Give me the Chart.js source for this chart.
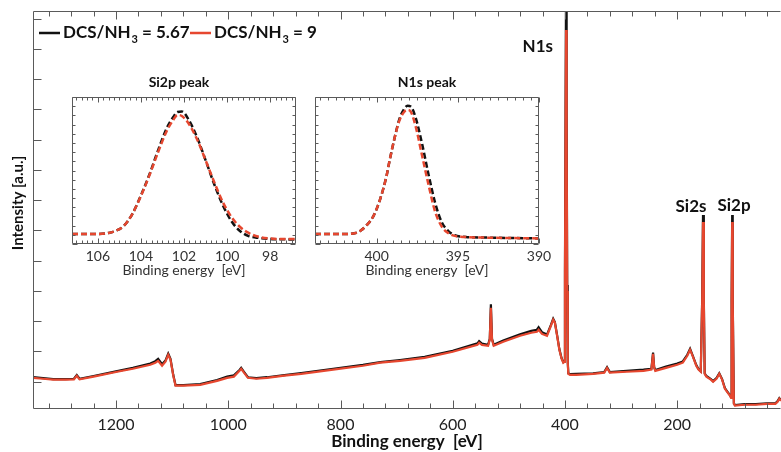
<!DOCTYPE html>
<html>
<head>
<meta charset="utf-8">
<script src="https://cdn.jsdelivr.net/npm/chart.js@4.4.1/dist/chart.umd.min.js"></script>
<style>
  body { margin: 0; background: #fff; }
  #wrap { position: relative; width: 781px; height: 452px; }
  canvas { position: absolute; }
</style>
</head>
<body>
<div id="wrap">
  <canvas id="survey" width="781" height="452" style="left:0;top:0"></canvas>
  <canvas id="si2p" width="270" height="215" style="left:40px;top:70px"></canvas>
  <canvas id="n1s" width="270" height="215" style="left:290px;top:70px"></canvas>
</div>
<script>
// survey spectrum, binding energy in eV, intensity in a.u.
const surveyEnergy = [1348, 1330, 1312, 1290, 1275, 1270, 1265, 1240, 1198, 1170, 1139, 1130, 1125, 1118, 1112, 1107, 1103, 1098, 1094, 1080,
  1050, 1020, 1002, 990, 980, 977, 972, 965, 950, 931, 900, 870, 813, 760, 729, 694, 650, 600, 556, 553,
  548, 537, 534, 532, 530, 527, 510, 480, 460, 450, 447, 441, 432, 425, 421, 418, 414, 410, 406, 403,
  401, 400, 399, 398, 397, 396, 395, 394, 391, 380, 350, 330, 325, 320, 290, 260, 246, 243, 241, 239,
  220, 200, 190, 182, 177, 172, 166, 162, 158, 155.5, 154, 152.5, 151, 148, 140, 136, 130, 125, 120, 115,
  110, 106, 104, 103, 102, 101, 99, 97, 80, 60, 40, 25, 21, 18, 15];
const surveyRatio9 = [0.13, 0.10, 0.07, 0.07, 0.08, 0.20, 0.08, 0.17, 0.33, 0.43, 0.56, 0.63, 0.69, 0.53, 0.66, 0.89, 0.73, 0.20, -0.13, -0.13,
  -0.10, 0.03, 0.13, 0.17, 0.36, 0.43, 0.30, 0.13, 0.10, 0.13, 0.20, 0.26, 0.40, 0.53, 0.63, 0.69, 0.79, 0.99, 1.22, 1.29,
  1.22, 1.19, 1.39, 2.44, 1.39, 1.19, 1.32, 1.52, 1.62, 1.65, 1.72, 1.58, 1.52, 1.85, 2.05, 1.95, 1.52, 1.06, 0.76, 0.63,
  0.66, 3.5, 8.0, 11.62, 8.0, 3.0, 0.6, 0.26, 0.23, 0.23, 0.26, 0.30, 0.46, 0.30, 0.33, 0.36, 0.40, 0.92, 0.46, 0.36,
  0.46, 0.56, 0.63, 0.86, 1.06, 0.83, 0.53, 0.40, 0.33, 2.6, 5.28, 2.6, 0.26, 0.17, 0.07, 0.0, 0.10, 0.26, 0.07, -0.23,
  -0.36, -0.46, -0.53, 2.6, 5.28, 2.6, -0.73, -0.79, -0.76, -0.76, -0.73, -0.73, -0.66, -0.56, -0.63];
const surveyRatio567 = [0.15, 0.12, 0.09, 0.09, 0.10, 0.22, 0.10, 0.19, 0.35, 0.46, 0.60, 0.68, 0.76, 0.58, 0.70, 0.93, 0.76, 0.22, -0.11, -0.11,
  -0.08, 0.06, 0.17, 0.21, 0.39, 0.46, 0.33, 0.15, 0.12, 0.15, 0.22, 0.29, 0.43, 0.56, 0.65, 0.72, 0.82, 1.02, 1.27, 1.34,
  1.26, 1.22, 1.42, 2.56, 1.42, 1.22, 1.36, 1.57, 1.68, 1.72, 1.80, 1.64, 1.56, 1.88, 2.08, 1.97, 1.54, 1.08, 0.78, 0.65,
  0.68, 3.7, 8.8, 13.5, 8.8, 3.2, 0.65, 0.28, 0.25, 0.26, 0.28, 0.32, 0.48, 0.32, 0.36, 0.40, 0.43, 0.96, 0.48, 0.39,
  0.50, 0.60, 0.67, 0.89, 1.09, 0.85, 0.55, 0.42, 0.35, 2.7, 5.51, 2.7, 0.28, 0.19, 0.09, 0.02, 0.12, 0.28, 0.09, -0.21,
  -0.34, -0.44, -0.51, 2.7, 5.51, 2.7, -0.71, -0.77, -0.74, -0.74, -0.71, -0.71, -0.64, -0.54, -0.61];
const surveyTicks = [200, 400, 600, 800, 1000, 1200];

// Si2p high resolution peak
const si2pEnergy = [107.2, 106.5, 106, 105.5, 105.2, 104.8, 104.4, 104, 103.6, 103.2, 102.8, 102.5, 102.3, 102.1, 101.8, 101.4, 101.0, 100.6, 100.2, 99.8, 99.4, 99, 98.5, 98, 97.5, 96.8];
const si2pRatio9 = [0.068, 0.068, 0.068, 0.075, 0.088, 0.122, 0.204, 0.327, 0.469, 0.626, 0.769, 0.844, 0.878, 0.871, 0.823, 0.714, 0.571, 0.422, 0.286, 0.184, 0.116, 0.075, 0.048, 0.037, 0.034, 0.034];
const si2pRatio567 = [0.068, 0.068, 0.068, 0.075, 0.088, 0.122, 0.204, 0.33, 0.475, 0.639, 0.789, 0.864, 0.898, 0.901, 0.85, 0.728, 0.571, 0.408, 0.265, 0.156, 0.088, 0.054, 0.041, 0.034, 0.032, 0.031];

// N1s high resolution peak
const n1sEnergy = [403.8, 402, 401.3, 401.0, 400.6, 400.2, 399.8, 399.4, 399.2, 398.9, 398.6, 398.3, 398.1, 397.9, 397.6, 397.2, 396.8, 396.4, 396.0, 395.6, 395.2, 394.5, 393, 390];
const n1sRatio9 = [0.068, 0.068, 0.075, 0.09, 0.13, 0.19, 0.30, 0.46, 0.57, 0.72, 0.84, 0.90, 0.912, 0.90, 0.80, 0.60, 0.40, 0.22, 0.12, 0.075, 0.055, 0.047, 0.043, 0.038];
const n1sRatio567 = [0.068, 0.068, 0.075, 0.09, 0.13, 0.19, 0.30, 0.46, 0.57, 0.72, 0.85, 0.92, 0.94, 0.935, 0.86, 0.68, 0.47, 0.28, 0.15, 0.09, 0.06, 0.048, 0.043, 0.038];

const RED = '#e6472f';
const BLACK = '#121212';
const AXIS = '#5a5a5a';
Chart.defaults.font.family = 'Lato';

function pts(xs, ys) {
  return xs.map((x, i) => ({x: x, y: ys[i]}));
}

// inward ticks + frame drawn on the chart area
const frameTicks = {
  id: 'frameTicks',
  afterDatasetsDraw(chart, args, o) {
    const {ctx, chartArea: a, scales: {x, y}} = chart;
    ctx.save();
    ctx.strokeStyle = AXIS;
    ctx.lineWidth = 1;
    ctx.beginPath();
    const L = Math.round(a.left) + 0.5, R = Math.round(a.right) - 0.5;
    const T = Math.round(a.top) + 0.5, B = Math.round(a.bottom) - 0.5;
    if (o.top) { ctx.moveTo(L, T); ctx.lineTo(R, T); }
    if (o.right) { ctx.moveTo(R, T); ctx.lineTo(R, B); }
    ctx.moveTo(L, T); ctx.lineTo(L, B); ctx.lineTo(R, B);
    const isMajor = (v, m) => Math.abs(v / m - Math.round(v / m)) < 1e-6;
    for (let i = Math.ceil(x.min / o.xStep - 1e-9); i * o.xStep <= x.max + 1e-9; i++) {
      const v = i * o.xStep;
      const px = Math.round(x.getPixelForValue(v)) + 0.5;
      const len = isMajor(v, o.xMajor) ? o.majorLen : o.minorLen;
      ctx.moveTo(px, B); ctx.lineTo(px, B - len);
      if (o.top) { ctx.moveTo(px, T); ctx.lineTo(px, T + len); }
    }
    for (let i = Math.ceil(y.min / o.yStep - 1e-9); i * o.yStep <= y.max + 1e-9; i++) {
      const v = i * o.yStep;
      const py = Math.round(y.getPixelForValue(v)) + 0.5;
      const len = isMajor(v, o.yMajor) ? o.majorLen : o.minorLen;
      ctx.moveTo(L, py); ctx.lineTo(L + len, py);
      if (o.right) { ctx.moveTo(R, py); ctx.lineTo(R - len, py); }
    }
    ctx.stroke();
    ctx.restore();
  }
};

// free text: titles, legend, peak names
function label(ctx, text, x, y, size, bold, align) {
  ctx.font = (bold ? 'bold ' : '') + size + 'px Lato';
  ctx.textAlign = align || 'center';
  ctx.textBaseline = 'middle';
  ctx.fillStyle = '#111';
  ctx.fillText(text, x, y);
}

function legendItem(ctx, x, y, color, value) {
  ctx.save();
  ctx.strokeStyle = color;
  ctx.lineWidth = 2.5;
  ctx.beginPath();
  ctx.moveTo(x, y); ctx.lineTo(x + 21, y);
  ctx.stroke();
  let cx = x + 24;
  label(ctx, 'DCS/NH', cx, y, 17, true, 'left');
  cx += ctx.measureText('DCS/NH').width + 1;
  label(ctx, '3', cx, y + 6, 11, true, 'left');
  cx += ctx.measureText('3').width + 4;
  label(ctx, '= ' + value, cx, y, 17, true, 'left');
  ctx.restore();
}

const surveyText = {
  id: 'surveyText',
  afterDraw(chart) {
    const ctx = chart.ctx;
    ctx.save();
    legendItem(ctx, 39, 33, BLACK, '5.67');
    legendItem(ctx, 190, 33, RED, '9');
    label(ctx, 'N1s', 553, 47, 17, true, 'right');
    label(ctx, 'Si2s', 691, 207, 17, true);
    label(ctx, 'Si2p', 734, 206, 17, true);
    ctx.translate(18, 203);
    ctx.rotate(-Math.PI / 2);
    label(ctx, 'Intensity [a.u.]', 0, 0, 15, true);
    ctx.restore();
  }
};

const insetTitle = {
  id: 'insetTitle',
  afterDraw(chart, args, o) {
    const a = chart.chartArea;
    label(chart.ctx, o.text, (a.left + a.right) / 2 + o.dx, 12, 14, true);
  }
};

new Chart('survey', {
  type: 'line',
  data: {
    datasets: [{
      data: pts(surveyEnergy, surveyRatio9),
      borderColor: RED,
      borderWidth: 2.2,
      pointRadius: 0,
      tension: 0,
      order: 0
    }, {
      data: pts(surveyEnergy, surveyRatio567),
      borderColor: BLACK,
      borderWidth: 2.2,
      pointRadius: 0,
      tension: 0,
      order: 1
    }]
  },
  options: {
    responsive: false,
    animation: false,
    layout: {padding: {top: 11, right: 0, left: 0, bottom: 0}},
    plugins: {
      legend: {display: false},
      tooltip: {enabled: false},
      frameTicks: {top: true, right: false, xStep: 40, xMajor: 200, yStep: 1, yMajor: 1, majorLen: 8, minorLen: 5}
    },
    scales: {
      x: {
        type: 'linear',
        reverse: true,
        min: 15,
        max: 1348,
        grid: {display: false, drawTicks: false},
        border: {display: false},
        afterBuildTicks: s => { s.ticks = surveyTicks.map(v => ({value: v})); },
        ticks: {autoSkip: false, maxRotation: 0, padding: 6, color: '#222', font: {size: 16}, callback: v => String(v)},
        title: {display: true, text: 'Binding energy  [eV]', color: '#111', font: {size: 17, weight: 'bold'}, padding: {top: 0, bottom: 0}},
        afterFit: s => { s.height = 43; }
      },
      y: {
        min: -0.9,
        max: 12.25,
        grid: {display: false, drawTicks: false},
        border: {display: false},
        ticks: {display: false},
        afterFit: s => { s.width = 33; }
      }
    }
  },
  plugins: [frameTicks, surveyText]
});

function inset(id, xs, red, black, xmin, xmax, step, minor, yw, padRight, title, dx) {
  new Chart(id, {
    type: 'line',
    data: {
      datasets: [{
        data: pts(xs, red),
        borderColor: RED,
        borderWidth: 2.5,
        borderDash: [6, 3],
        pointRadius: 0,
        cubicInterpolationMode: 'monotone',
        order: 0
      }, {
        data: pts(xs, black),
        borderColor: BLACK,
        borderWidth: 2.5,
        borderDash: [6, 3],
        pointRadius: 0,
        cubicInterpolationMode: 'monotone',
        order: 1
      }]
    },
    options: {
      responsive: false,
      animation: false,
      layout: {padding: {top: 27, right: padRight, left: 0, bottom: 0}},
      plugins: {
        legend: {display: false},
        tooltip: {enabled: false},
        frameTicks: {top: true, right: true, xStep: minor, xMajor: step, yStep: 0.0625, yMajor: 10, majorLen: 5, minorLen: 3},
        insetTitle: {text: title, dx: dx}
      },
      scales: {
        x: {
          type: 'linear',
          reverse: true,
          min: xmin,
          max: xmax,
          grid: {display: false, drawTicks: false},
          border: {display: false},
          ticks: {stepSize: step, includeBounds: false, autoSkip: false, maxRotation: 0, padding: 4, color: '#333', font: {size: 14}, callback: v => String(v)},
          title: {display: true, text: 'Binding energy  [eV]', color: '#333', font: {size: 14}, padding: {top: 0, bottom: 6}},
          afterFit: s => { s.height = 41; }
        },
        y: {
          min: 0,
          max: 1,
          grid: {display: false, drawTicks: false},
          border: {display: false},
          ticks: {display: false},
          afterFit: s => { s.width = yw; }
        }
      }
    },
    plugins: [frameTicks, insetTitle]
  });
}

inset('si2p', si2pEnergy, si2pRatio9, si2pRatio567, 96.8, 107.2, 2, 0.25, 32, 14, 'Si2p peak', -5);
inset('n1s', n1sEnergy, n1sRatio9, n1sRatio567, 390, 403.8, 5, 0.5, 25, 21, 'N1s peak', 0);
</script>
</body>
</html>
